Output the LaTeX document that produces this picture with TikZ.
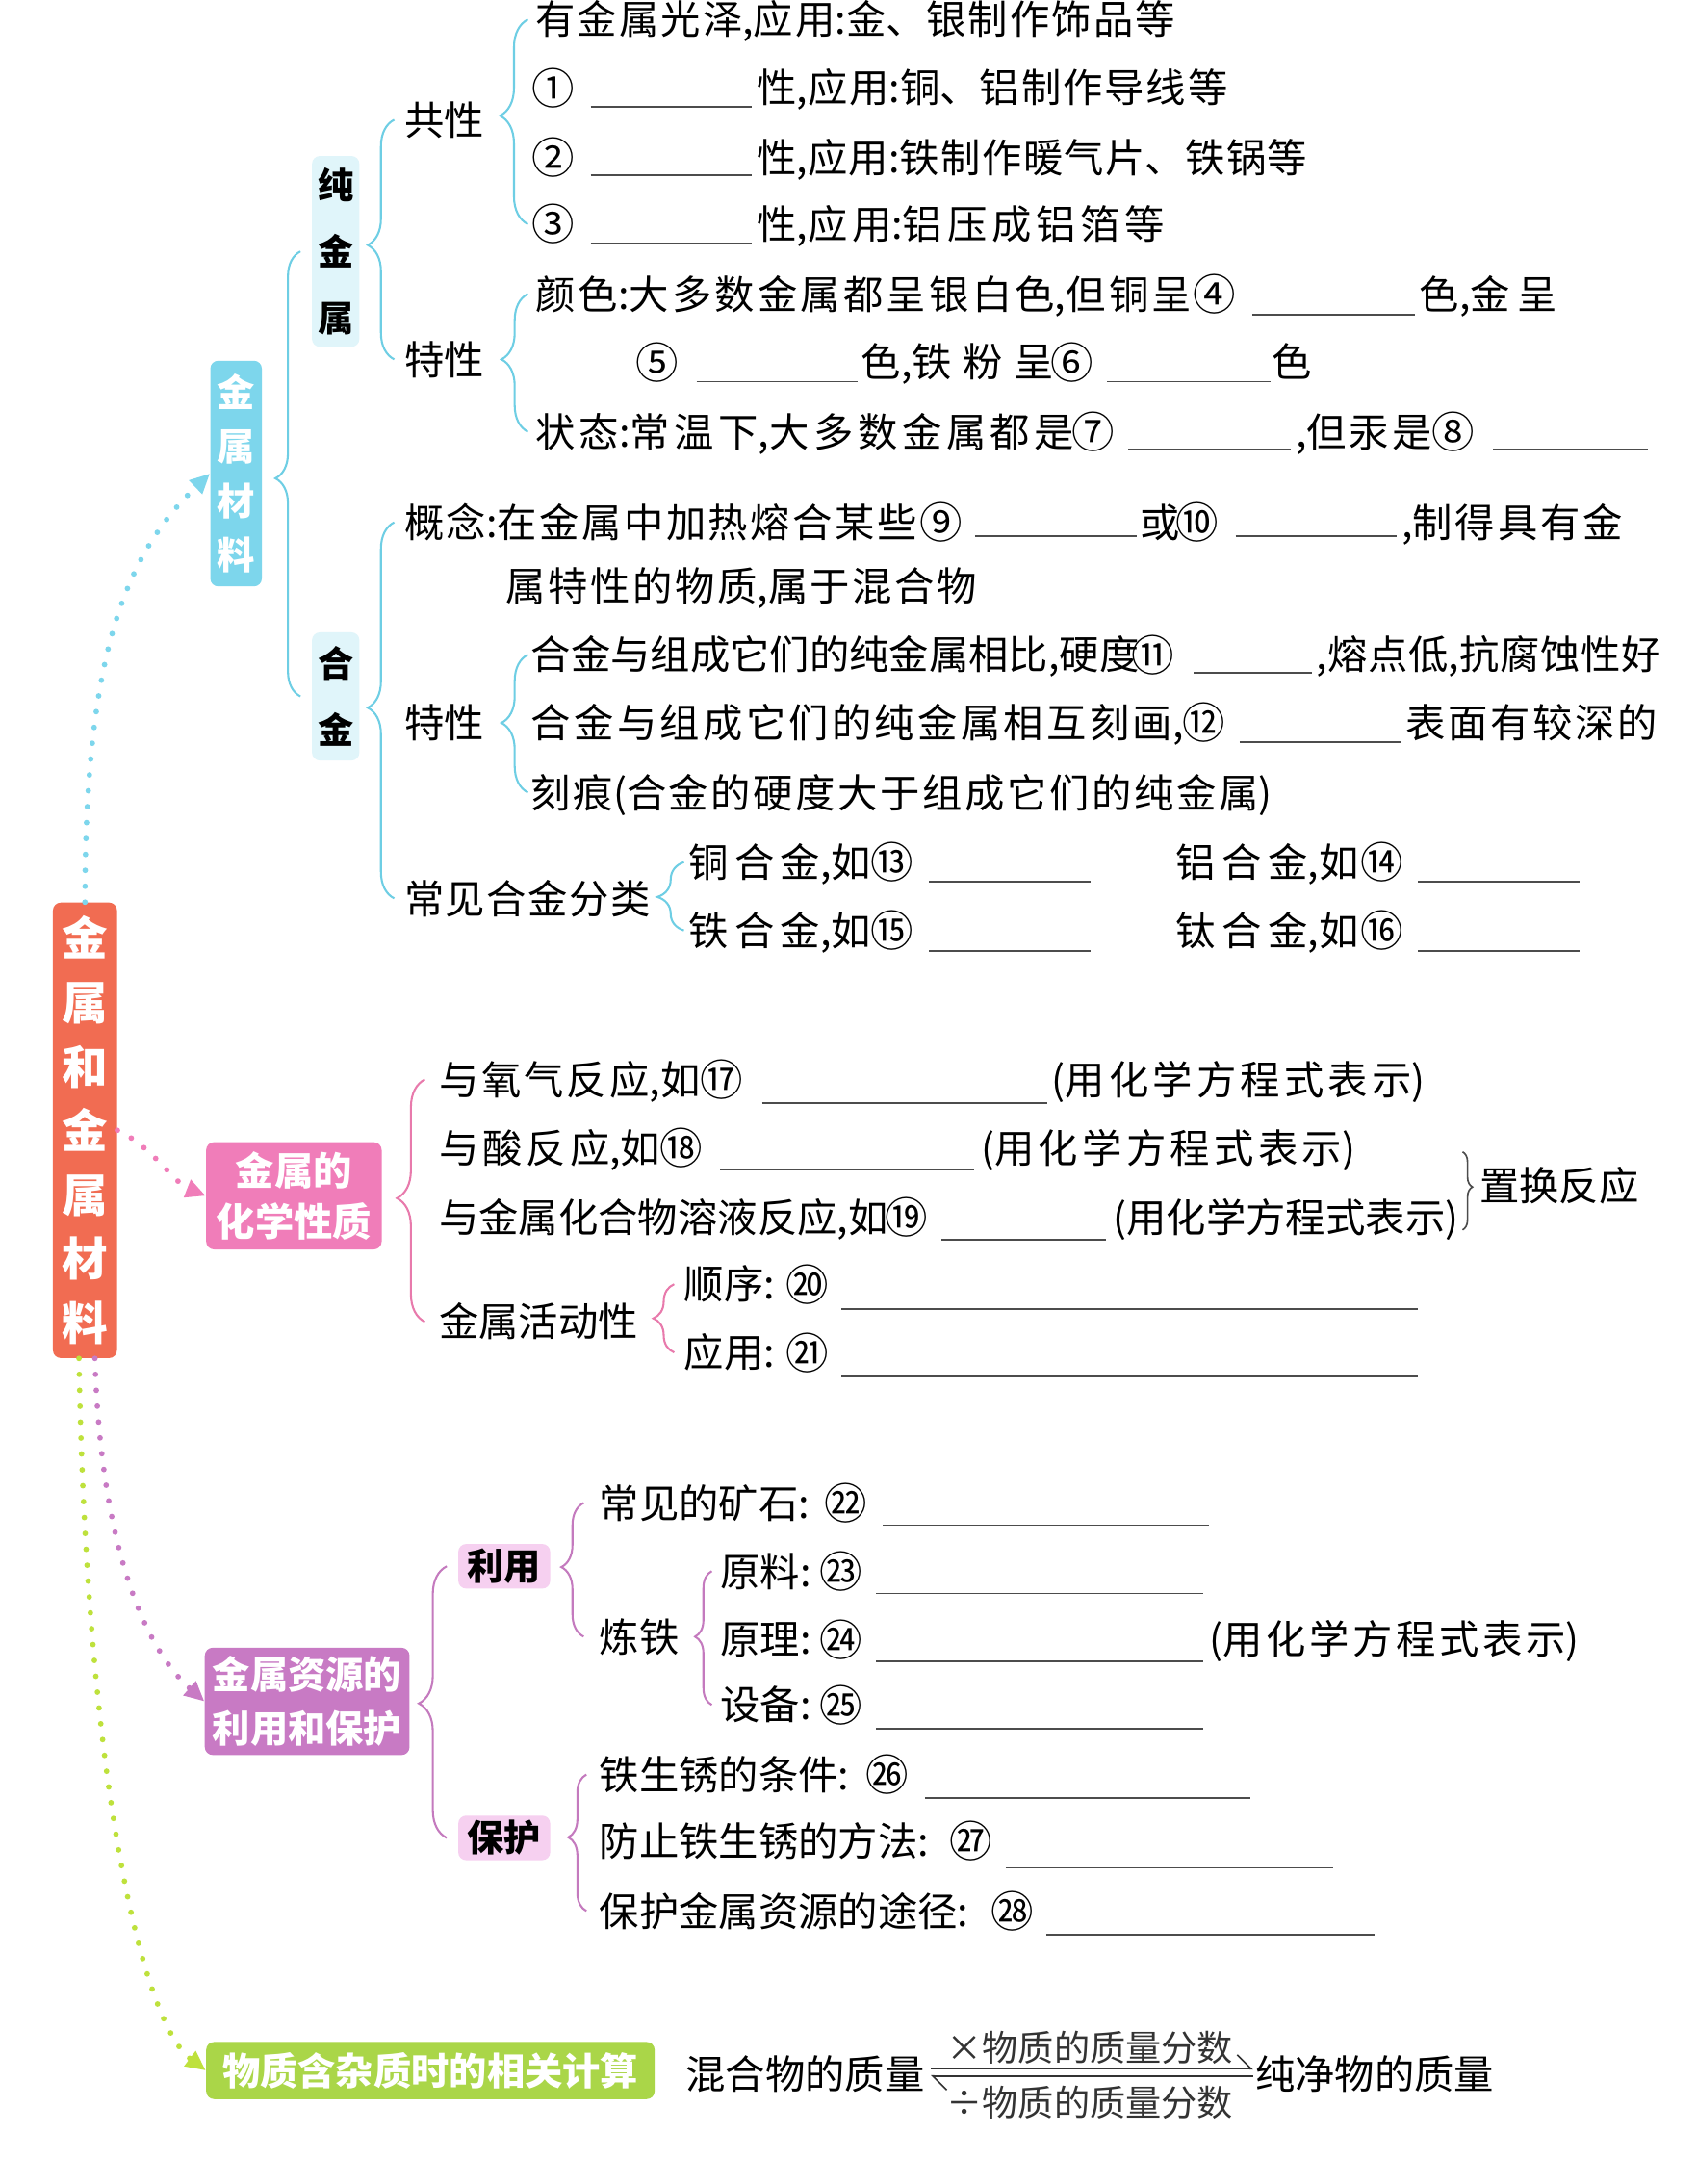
\documentclass[tikz,border=0pt]{standalone}
\usepackage{fontspec}
\setmainfont{Noto Sans CJK SC}
\usetikzlibrary{decorations.pathreplacing,arrows.meta}
\def\mygap{0pt}
\newcount\cjkc
\cjkc="4E00
\loop
  \XeTeXcharclass\cjkc=7
  \advance\cjkc by 1
\ifnum\cjkc<"A000 \repeat
\XeTeXinterchartokenstate=1
\XeTeXinterchartoks 7 7 = {\hskip\mygap\relax}
\definecolor{coral}{RGB}{241,108,82}
\definecolor{cyanbox}{RGB}{125,214,236}
\definecolor{cyanline}{RGB}{110,206,228}
\definecolor{cyanpale}{RGB}{224,245,250}
\definecolor{pinkbox}{RGB}{240,125,185}
\definecolor{pinkline}{RGB}{232,122,172}
\definecolor{purpbox}{RGB}{200,122,196}
\definecolor{purpline}{RGB}{196,122,190}
\definecolor{purppale}{RGB}{246,208,240}
\definecolor{greenbox}{RGB}{170,214,72}
\definecolor{greendot}{RGB}{190,225,60}
\tikzset{
  txt/.style={anchor=west, inner sep=0pt, font=\fontsize{20}{24}\selectfont, text height=17.6pt, text depth=2.4pt},
  num/.style={anchor=center, inner sep=0pt, font=\fontsize{21.5}{24}\selectfont},
  gap/.code={\def\mygap{#1}},
  blank/.style={draw=black!70, line width=0.9pt},
  cbr/.style={draw=cyanline, line width=1pt, decorate},
  pbr/.style={draw=pinkline, line width=1pt, decorate},
  ubr/.style={draw=purpline, line width=1pt, decorate},
  kbr/.style={draw=black!70, line width=0.8pt, decorate},
  dotline/.style={line width=2.8pt, line cap=round, dash pattern=on 0pt off 8pt, -{Triangle[length=10pt,width=9pt]}},
  bigbox/.style={rounded corners=4pt, inner sep=0pt, align=center, text=white},
  palebox/.style={rounded corners=4pt, inner sep=0pt, align=center, text=black, font=\bfseries\fontsize{18}{33.6}\selectfont},
}
\begin{document}
\begin{tikzpicture}[x=0.7pt,y=-0.7pt]
\XeTeXinterchartokenstate=1
\useasboundingbox (0,0) rectangle (1218,1568);
\fill[white] (0,0) rectangle (1218,1568);

% ---------- boxes ----------
\node[bigbox, fill=coral, minimum width=32.2pt, minimum height=228.9pt, font=\bfseries\fontsize{23}{32.2}\selectfont] (main) at (61,811.5) {金\\属\\和\\金\\属\\材\\料};
\node[bigbox, fill=cyanbox, minimum width=25.9pt, minimum height=113.4pt, font=\bfseries\fontsize{19}{27.3}\selectfont] (jscl) at (169.5,340) {金\\属\\材\\料};
\node[palebox, fill=cyanpale, minimum width=23.8pt, minimum height=95.9pt] (cjs) at (241,180.5) {纯\\金\\属};
\node[palebox, fill=cyanpale, minimum width=23.8pt, minimum height=64.4pt] (hj) at (241,500) {合\\金};
\node[bigbox, fill=pinkbox, minimum width=88.2pt, minimum height=53.9pt, font=\bfseries\fontsize{19.5}{25.9}\selectfont] (chem) at (211,858.5) {金属的\\化学性质};
\node[bigbox, fill=purpbox, minimum width=102.9pt, minimum height=53.9pt, font=\bfseries\fontsize{19}{27.3}\selectfont] (res) at (220.5,1221.5) {金属资源的\\利用和保护};
\node[palebox, fill=purppale, minimum width=46.2pt, minimum height=22.4pt, font=\bfseries\fontsize{18.5}{22}\selectfont] (ly) at (362,1124.5) {利用};
\node[palebox, fill=purppale, minimum width=46.2pt, minimum height=22.4pt, font=\bfseries\fontsize{18.5}{22}\selectfont] (bh) at (362,1319.5) {保护};
\node[bigbox, fill=greenbox, minimum width=225.4pt, minimum height=28.7pt, font=\bfseries\fontsize{19}{22}\selectfont] (calc) at (309,1486.5) {物质含杂质时的相关计算};

% ---------- dotted arrows ----------
\draw[dotline, cyanbox] (main.north) .. controls (61,470) and (90,398) .. (jscl.west);
\draw[dotline, pinkbox] (main.east) .. controls (108,822) and (126,850) .. (chem.west);
\draw[dotline, purpbox] ([xshift=5pt]main.south) .. controls (72,1100) and (100,1180) .. (res.west);
\draw[dotline, greendot] ([xshift=-3pt]main.south) .. controls (62,1280) and (102,1452) .. (calc.west);

% ---------- 纯金属 ----------
\node[txt] (gx) at (290,86) {共性};
\node[txt] (tx) at (290,258) {特性};
\node[txt,gap=1.05pt] (a1) at (384,14) {有金属光泽,应用:金、银制作饰品等};
\node[num] (n1) at (397.5,63) {①};
\draw[blank] (424,77) -- (540,77);
\node[txt,gap=0.93pt] (a2) at (543,63) {性,应用:铜、铝制作导线等};
\node[num] (n2) at (397.5,113) {②};
\draw[blank] (424,126) -- (540,126);
\node[txt,gap=0.7pt] (a3) at (543,113) {性,应用:铁制作暖气片、铁锅等};
\node[num] (n3) at (397.5,161) {③};
\draw[blank] (424,175) -- (540,175);
\node[txt,gap=2.3pt] (a4) at (543,161) {性,应用:铝压成铝箔等};
\node[txt,gap=1.56pt] (c1) at (384,211) {颜色:大多数金属都呈银白色,但铜呈};
\node[num] (n4) at (872,211) {④};
\draw[blank] (899,226) -- (1016,226);
\node[txt,gap=3.5pt] (c2) at (1019,211) {色,金呈};
\node[num] (n5) at (471.5,260) {⑤};
\draw[blank] (500,274) -- (616,274);
\node[txt,gap=5.6pt] (c3) at (618,260) {色,铁粉呈};
\node[num] (n6) at (769.5,260) {⑥};
\draw[blank] (795,274) -- (912,274);
\node[txt] (c4) at (913,260) {色};
\node[txt,gap=2.2pt] (s1) at (384,310) {状态:常温下,大多数金属都是};
\node[num] (n7) at (785,310) {⑦};
\draw[blank] (810,323) -- (927,323);
\node[txt,gap=1.4pt] (s2) at (930,310) {,但汞是};
\node[num] (n8) at (1043.5,310) {⑧};
\draw[blank] (1072,323) -- (1183,323);

\draw[cbr, decoration={brace,amplitude=14pt,aspect=0.53}] ([xshift=-3.5pt]s1.west |- n3.west) -- ([xshift=-3.5pt]a1.west);
\draw[cbr, decoration={brace,amplitude=13.3pt,aspect=0.525}] ([xshift=-3.5pt]s1.west) -- ([xshift=-3.5pt]c1.west);
\draw[cbr, decoration={brace,amplitude=13.3pt,aspect=0.477}] ([xshift=-4.9pt]tx.west) -- ([xshift=-4.9pt]gx.west);
\draw[cbr, decoration={brace,amplitude=12.6pt,aspect=0.49}] ([xshift=-5.6pt]hj.west) -- ([xshift=-5.6pt]cjs.west);

% ---------- 合金 ----------
\node[txt,gap=1.2pt] (k1) at (290,375) {概念:在金属中加热熔合某些};
\node[num] (n9) at (675.5,375) {⑨};
\draw[blank] (700,385) -- (816,385);
\node[txt] (k2) at (818,375) {或};
\node[num] (n10) at (859.5,375) {⑩};
\draw[blank] (887,385) -- (1003,385);
\node[txt,gap=1.4pt] (k3) at (1006,375) {,制得具有金};
\node[txt,gap=1.24pt] (k4) at (363,421) {属特性的物质,属于混合物};
\node[txt] (tx2) at (290,519) {特性};
\node[txt] (h1) at (381,470) {合金与组成它们的纯金属相比,硬度};
\node[num] (n11) at (827.5,470) {⑪};
\draw[blank] (857,483) -- (942,483);
\node[txt,gap=0.3pt] (h2) at (945,470) {,熔点低,抗腐蚀性好};
\node[txt,gap=1.6pt] (h3) at (381,519) {合金与组成它们的纯金属相互刻画,};
\node[num] (n12) at (864,519) {⑫};
\draw[blank] (890,533) -- (1006,533);
\node[txt,gap=1.26pt] (h4) at (1009,519) {表面有较深的};
\node[txt,gap=1.26pt] (h5) at (381,569) {刻痕(合金的硬度大于组成它们的纯金属)};
\node[txt,gap=0.7pt] (cj) at (290,645) {常见合金分类};
\node[txt,gap=3.1pt] (l1) at (494,619) {铜合金,如};
\node[num] (n13) at (640.5,619) {⑬};
\draw[blank] (667,633) -- (783,633);
\node[txt,gap=3.1pt] (l2) at (844,619) {铝合金,如};
\node[num] (n14) at (992,619) {⑭};
\draw[blank] (1018,633) -- (1134,633);
\node[txt,gap=3.1pt] (l3) at (494,668) {铁合金,如};
\node[num] (n15) at (640.5,668) {⑮};
\draw[blank] (667,683) -- (783,683);
\node[txt,gap=3.1pt] (l4) at (844,668) {钛合金,如};
\node[num] (n16) at (992,668) {⑯};
\draw[blank] (1018,683) -- (1134,683);

\draw[cbr, decoration={brace,amplitude=13.3pt,aspect=0.507}] ([xshift=-4.9pt]cj.west) -- ([xshift=-4.9pt]k1.west);
\draw[cbr, decoration={brace,amplitude=13.3pt,aspect=0.505}] ([xshift=-1.4pt]h5.west) -- ([xshift=-1.4pt]h1.west);
\draw[cbr, decoration={brace,amplitude=13.3pt,aspect=0.49}] ([xshift=-2.1pt]l3.west) -- ([xshift=-2.1pt]l1.west);

% ---------- 化学性质 ----------
\node[txt,gap=1.4pt] (r1) at (315,775) {与氧气反应,如};
\node[num] (n17) at (518,775) {⑰};
\draw[blank] (547,792) -- (752,792);
\node[txt,gap=2pt] (p1) at (755,775) {(用化学方程式表示)};
\node[txt,gap=1.9pt] (r2) at (315,824) {与酸反应,如};
\node[num] (n18) at (489,824) {⑱};
\draw[blank] (517,840) -- (699,840);
\node[txt,gap=2.1pt] (p2) at (704,824) {(用化学方程式表示)};
\node[txt] (r3) at (315,874) {与金属化合物溶液反应,如};
\node[num] (n19) at (650.5,874) {⑲};
\draw[blank] (676,890) -- (794,890);
\node[txt] (p3) at (799,874) {(用化学方程式表示)};
\coordinate (zt) at (1050,827);
\coordinate (zb) at (1050,883);
\draw[kbr, decoration={brace,amplitude=5pt,aspect=0.45}] (zt) -- (zb);
\node[txt] (zh) at (1062,851) {置换反应};
\node[txt] (ha) at (315,949) {金属活动性};
\node[txt] (sx) at (491,922) {顺序:};
\node[num] (n20) at (579.5,922) {⑳};
\draw[blank] (604,940) -- (1018,940);
\node[txt] (yy) at (491,971) {应用:};
\node[num] (n21) at (579.5,971) {㉑};
\draw[blank] (604,988) -- (1018,988);

\draw[pbr, decoration={brace,amplitude=14pt,aspect=0.51}] ([xshift=-7pt]ha.west) -- ([xshift=-7pt]r1.west);
\draw[pbr, decoration={brace,amplitude=10.5pt,aspect=0.5}] ([xshift=-4.9pt]yy.west) -- ([xshift=-4.9pt]sx.west);

% ---------- 资源 ----------
\node[txt] (u1) at (430,1079) {常见的矿石:};
\node[num] (n22) at (607.5,1079) {㉒};
\draw[blank] (634,1095) -- (868,1095);
\node[txt] (lt) at (430,1175) {炼铁};
\node[txt] (y1) at (517,1128) {原料:};
\node[num] (n23) at (603.5,1128) {㉓};
\draw[blank] (629,1144) -- (864,1144);
\node[txt] (y2) at (517,1177) {原理:};
\node[num] (n24) at (603.5,1177) {㉔};
\draw[blank] (629,1193) -- (864,1193);
\node[txt,gap=1.75pt] (p4) at (868,1177) {(用化学方程式表示)};
\node[txt] (y3) at (517,1224) {设备:};
\node[num] (n25) at (603.5,1224) {㉕};
\draw[blank] (629,1241) -- (864,1241);
\node[txt] (v1) at (430,1274) {铁生锈的条件:};
\node[num] (n26) at (637,1274) {㉖};
\draw[blank] (664,1291) -- (898,1291);
\node[txt] (v2) at (430,1322) {防止铁生锈的方法:};
\node[num] (n27) at (697,1322) {㉗};
\draw[blank] (722,1341) -- (957,1341);
\node[txt] (v3) at (430,1372) {保护金属资源的途径:};
\node[num] (n28) at (727,1372) {㉘};
\draw[blank] (751,1389) -- (987,1389);

\draw[ubr, decoration={brace,amplitude=14pt,aspect=0.495}] ([xshift=-5.6pt]bh.west) -- ([xshift=-5.6pt]ly.west);
\draw[ubr, decoration={brace,amplitude=11.2pt,aspect=0.52}] ([xshift=-7.7pt]lt.west) -- ([xshift=-7.7pt]u1.west);
\draw[ubr, decoration={brace,amplitude=8.4pt,aspect=0.51}] ([xshift=-4.2pt]y3.west) -- ([xshift=-4.2pt]y1.west);
\draw[ubr, decoration={brace,amplitude=9.1pt,aspect=0.54}] ([xshift=-6.3pt]v3.west) -- ([xshift=-6.3pt]v1.west);

% ---------- 计算 ----------
\node[txt] (m1) at (492,1489) {混合物的质量};
\node[txt] (m2) at (901,1489) {纯净物的质量};
\draw[line width=0.8pt, black!80, -{Straight Barb[harpoon,length=7pt]}, shorten <=3pt, shorten >=1pt] ([yshift=2.6pt]m1.east) -- node[above=2pt, inner sep=0pt, font=\fontsize{18}{20}\selectfont] (q1) {×物质的质量分数} ([yshift=2.6pt]m2.west);
\draw[line width=0.8pt, black!80, -{Straight Barb[harpoon,length=7pt]}, shorten <=1pt, shorten >=3pt] ([yshift=-1pt]m2.west) -- node[below=4.5pt, inner sep=0pt, font=\fontsize{18}{20}\selectfont] (q2) {÷物质的质量分数} ([yshift=-1pt]m1.east);
\end{tikzpicture}
\end{document}
